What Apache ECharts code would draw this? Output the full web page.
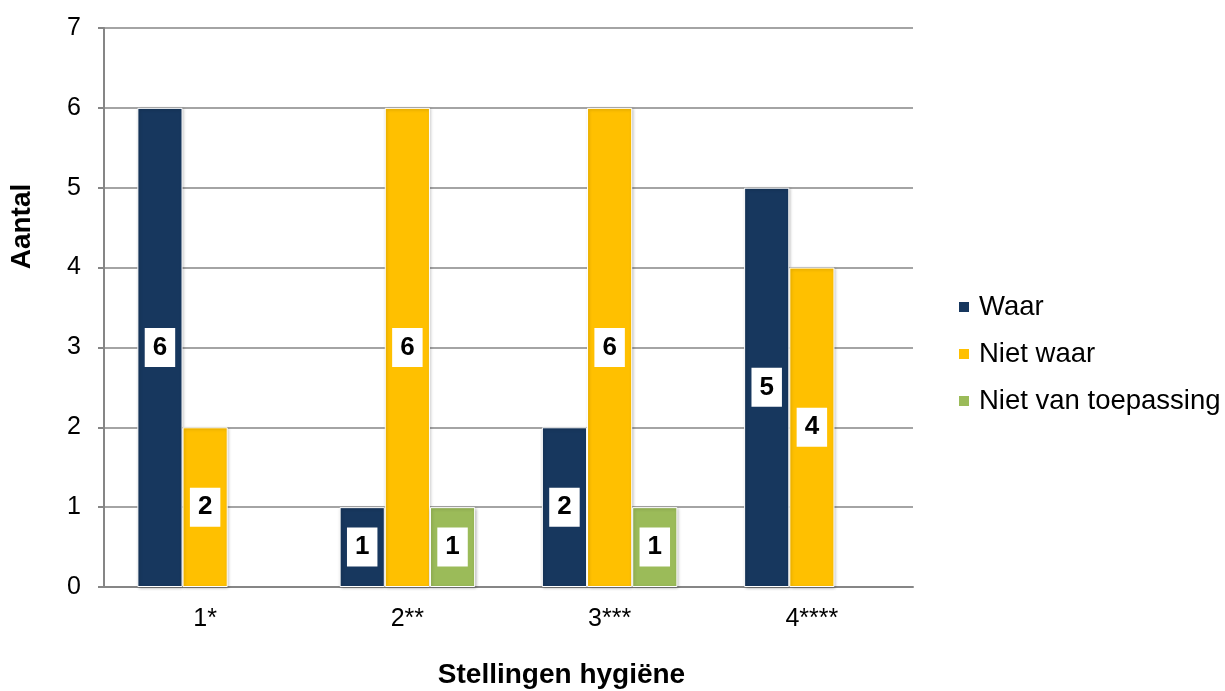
<!DOCTYPE html>
<html><head><meta charset="utf-8">
<script src="https://cdn.jsdelivr.net/npm/echarts@6/dist/echarts.min.js"></script>
<style>html,body{margin:0;padding:0;background:#fff}#c{width:1225px;height:691px}</style>
</head><body><div id="c"></div>
<script>
const categories = ['1*', '2**', '3***', '4****'];
const waar = [6, 1, 2, 5];
const nietWaar = [2, 6, 6, 4];
const nietVanToepassing = [null, 1, 1, null];
const yTicks = [0, 1, 2, 3, 4, 5, 6, 7];

const F = 'Liberation Sans, Arial, sans-serif';
const label = {
  show: true, position: 'inside', color: '#000', fontFamily: F, fontWeight: 'bold', fontSize: 26,
  backgroundColor: '#fff', padding: [7, 8, 6, 8], lineHeight: 26
};
function ser(name, data, color) {
  return {
    name, type: 'bar', data, barGap: '0%', barCategoryGap: '33%',
    itemStyle: { color, borderColor: '#fff', borderWidth: 1, shadowColor: 'rgba(0,0,0,0.25)', shadowBlur: 3, shadowOffsetX: 1, shadowOffsetY: 1 },
    label
  };
}
const chart = echarts.init(document.getElementById('c'));
chart.setOption({
  animation: false,
  backgroundColor: '#fff',
  grid: { left: 104, right: 312, top: 28, bottom: 104, containLabel: false, outerBoundsMode: 'none' },
  legend: {
    orient: 'vertical', left: 957, top: 293, padding: 0, itemWidth: 12, itemHeight: 12, itemGap: 19, icon: 'rect',
    textStyle: { fontFamily: F, fontSize: 27.5, color: '#000', padding: [0, 0, 0, 4] },
    data: ['Waar', 'Niet waar', 'Niet van toepassing']
  },
  xAxis: {
    type: 'category', data: categories,
    name: 'Stellingen hygiëne', nameLocation: 'middle', nameGap: 74,
    nameTextStyle: { fontFamily: F, fontSize: 28, fontWeight: 'bold', color: '#000', padding: [0, 0, 0, 106] },
    axisLine: { lineStyle: { color: '#868686', width: 2 } },
    axisTick: { show: false },
    axisLabel: { fontFamily: F, fontSize: 25, color: '#000', margin: 20 }
  },
  yAxis: {
    type: 'value', min: 0, max: 7, interval: 1,
    name: 'Aantal', nameLocation: 'middle', nameGap: 68,
    nameTextStyle: { fontFamily: F, fontSize: 28, fontWeight: 'bold', color: '#000', padding: [0, 0, 0, 162] },
    axisLine: { show: true, lineStyle: { color: '#868686', width: 2 } },
    axisTick: { show: true, length: 6, lineStyle: { color: '#868686', width: 2 } },
    splitLine: { lineStyle: { color: '#868686', width: 1.5 } },
    axisLabel: { fontFamily: F, fontSize: 25, color: '#000', margin: 23,
      formatter: v => yTicks.includes(v) ? String(v) : '' }
  },
  series: [
    ser('Waar', waar, '#17375E'),
    ser('Niet waar', nietWaar, '#FFC000'),
    ser('Niet van toepassing', nietVanToepassing, '#9BBB59')
  ]
});
</script></body></html>
